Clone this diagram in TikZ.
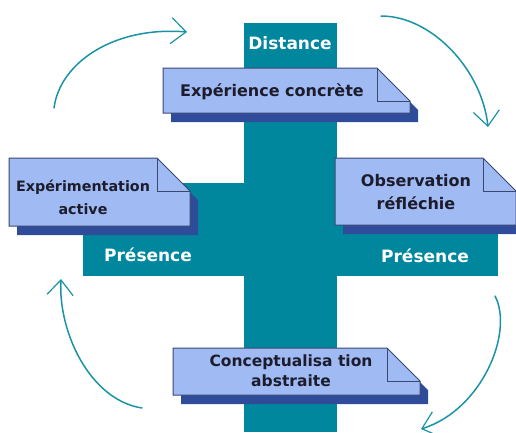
\documentclass[tikz,border=0pt]{standalone}
\usepackage{fontspec}
\setmainfont{DejaVu Sans}
\usetikzlibrary{arrows.meta}

\definecolor{barteal}{HTML}{00879E}
\definecolor{notefill}{HTML}{A0BAF4}
\definecolor{noteline}{HTML}{3A4870}
\definecolor{noteshadow}{HTML}{2F4C9A}
\definecolor{cycleteal}{HTML}{1A93A6}
\definecolor{notetext}{HTML}{1C1C2C}

% folded note: x1 y1 x2 y2 (fold of 33)
\newcommand{\notebox}[4]{%
  \fill[noteshadow, shift={(8,9)}] (#1,#2) -- (#3-33,#2) -- (#3,#2+33) -- (#3,#4) -- (#1,#4) -- cycle;
  \filldraw[fill=notefill, draw=noteline, line width=1pt] (#1,#2) -- (#3-33,#2) -- (#3,#2+33) -- (#3,#4) -- (#1,#4) -- cycle;
  \draw[noteline, line width=1pt] (#3-33,#2) |- (#3,#2+33);
}

\begin{document}
\begin{tikzpicture}[x=1pt, y=-1pt,
    notelabel/.style={text=notetext, font=\bfseries\fontsize{16}{23}\selectfont, align=center, inner sep=0pt},
    barlabel/.style={text=white, font=\bfseries\fontsize{17}{18}\selectfont, inner sep=0pt},
    cycle/.style={draw=cycleteal, line width=1.5pt, line cap=round, -{Straight Barb[length=15pt, width=26pt, line width=1.2pt]}}]
    \useasboundingbox (0,0) rectangle (516,432);

    % Cross
    \fill[barteal] (244,23) rectangle (337,432);
    \fill[barteal] (83,183) rectangle (498,276);
    \node[barlabel] (distance) at (290,43) {Distance};
    \node[barlabel] (presence_left) at (148,255) {Présence};
    \node[barlabel] (presence_right) at (425,256) {Présence};

    % Notes
    \notebox{163}{68}{410}{113}
    \notebox{9}{158}{190}{226}
    \notebox{335}{158}{516}{225}
    \notebox{173}{348}{420}{395}
    \node[notelabel] (experience) at (272,92) {Expérience concrète};
    \node[notelabel, font=\bfseries\fontsize{14.3}{23}\selectfont] (experimentation) at (83,197) {Expérimentation\\active};
    \node[notelabel] (observation) at (416,192) {Observation\\réfléchie};
    \node[notelabel, font=\bfseries\fontsize{15.5}{20}\selectfont] (conceptualisation) at (291,371) {Conceptualisa tion\\abstraite};

    % Arrows
    \coordinate (a1s) at (54,108);  \coordinate (a1e) at (187,32);
    \coordinate (a2s) at (381,16);  \coordinate (a2e) at (488,127);
    \coordinate (a3s) at (495,296); \coordinate (a3e) at (421,429);
    \coordinate (a4s) at (142,408); \coordinate (a4e) at (61,279);
    \draw[cycle] (a1s) .. controls (60,62) and (115,26) .. (a1e);
    \draw[cycle] (a2s) .. controls (432,16) and (482,70) .. (a2e);
    \draw[cycle] (a3s) .. controls (514,332) and (482,410) .. (a3e);
    \draw[cycle] (a4s) .. controls (90,400) and (58,332) .. (a4e);
\end{tikzpicture}
\end{document}
